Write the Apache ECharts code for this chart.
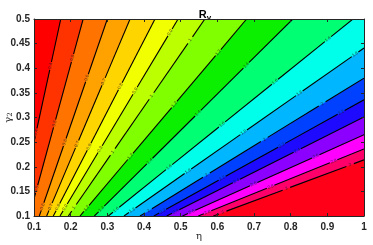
<!DOCTYPE html>
<html><head><meta charset="utf-8">
<script src="https://cdn.jsdelivr.net/npm/echarts@6/dist/echarts.min.js"></script>
<style>html,body{margin:0;padding:0;background:#fff}#c{width:373px;height:245px}</style>
</head><body><div id="c"></div>
<script>
// contour levels of R_v
const levels = [0.4, 0.5, 0.6, 0.7, 0.8, 0.9, 1, 1.2, 1.4, 1.6, 1.8, 2, 2.2, 2.4, 2.6, 2.8, 3];
// upper end of each contour line (on top edge or right edge)
const upperEta   = [0.173, 0.234, 0.300, 0.362, 0.430, 0.493, 0.566, 0.680, 0.806, 0.970, 1, 1, 1, 1, 1, 1, 1];
const upperGamma = [0.5, 0.5, 0.5, 0.5, 0.5, 0.5, 0.5, 0.5, 0.5, 0.5, 0.441, 0.380, 0.336, 0.301, 0.265, 0.236, 0.214];
// lower end of each contour line (on left edge or bottom edge)
const lowerEta   = [0.1, 0.1, 0.1145, 0.1345, 0.1527, 0.171, 0.1936, 0.2255, 0.2645, 0.3027, 0.3455, 0.389, 0.427, 0.462, 0.505, 0.548, 0.589];
const lowerGamma = [0.250, 0.135, 0.1, 0.1, 0.1, 0.1, 0.1, 0.1, 0.1, 0.1, 0.1, 0.1, 0.1, 0.1, 0.1, 0.1, 0.1];
// axis ranges / ticks
const etaRange = [0.1, 1], etaStep = 0.1;
const gammaRange = [0.1, 0.5], gammaStep = 0.05;

const bandColors = ['#FF0000','#FF3300','#FF7300','#FFA200','#FFD500','#F2FF00','#BBFF00','#80FF00',
  '#0AF000','#00FF72','#00FFEA','#00B7FF','#0040FF','#1D0AFF','#8C00FF','#FF00FF','#FF006A','#FF0018'];

const chart = echarts.init(document.getElementById('c'));
const AX = '#262626';

const fillData = bandColors.map((c, k) => [k]);
const lineData = levels.map((lv, i) => [upperEta[i], upperGamma[i], lowerEta[i], lowerGamma[i], lv]);

function fmt(v){ return String(+v.toFixed(2)); }

function renderFill(params, api) {
  const k = params.dataIndex;
  const [x0, x1] = etaRange, [y0, y1] = gammaRange;
  let pts;
  if (k >= levels.length) {
    pts = [[x0,y0],[x1,y0],[x1,y1],[x0,y1]];
  } else {
    pts = [[lowerEta[k], lowerGamma[k]], [upperEta[k], upperGamma[k]]];
    if (upperEta[k] >= x1) pts.push([x1, y1]);
    pts.push([x0, y1]);
    if (lowerGamma[k] <= y0) pts.push([x0, y0]);
  }
  return {
    type: 'polygon', z2: 100 - k,
    shape: { points: pts.map(p => api.coord(p)) },
    style: { fill: bandColors[k], stroke: bandColors[k], lineWidth: 0.5 }
  };
}

function renderLine(params, api) {
  const i = params.dataIndex;
  const Q = api.coord([lowerEta[i], lowerGamma[i]]);
  const P = api.coord([upperEta[i], upperGamma[i]]);
  const dx = P[0]-Q[0], dy = P[1]-Q[1];
  const L = Math.hypot(dx, dy);
  const ux = dx/L, uy = dy/L;
  const rot = Math.atan2(-dy, dx);
  const labs = [];
  for (let s = 10; s < L - 8; s += 68) labs.push(s);
  const gap = 4;
  const children = [];
  let cur = 0;
  labs.forEach(s => {
    const a = cur, b = s - gap;
    if (b > a) children.push({type:'line', shape:{x1:Q[0]+ux*a, y1:Q[1]+uy*a, x2:Q[0]+ux*b, y2:Q[1]+uy*b}, style:{stroke:'#000', lineWidth:1.1}});
    children.push({type:'text', x:Q[0]+ux*s, y:Q[1]+uy*s, rotation: rot,
      style:{text: String(levels[i]), fontSize:4.5, fontFamily:'Liberation Sans', fill:'rgba(30,30,30,0.8)', align:'center', verticalAlign:'middle'}});
    cur = s + gap;
  });
  children.push({type:'line', shape:{x1:Q[0]+ux*cur, y1:Q[1]+uy*cur, x2:P[0], y2:P[1]}, style:{stroke:'#000', lineWidth:1.1}});
  return {type:'group', children};
}

const baseX = { type:'value', min: etaRange[0], max: etaRange[1], interval: etaStep, z: 10,
  axisLine:{show:true, onZero:false, lineStyle:{color:AX, width:1}},
  axisTick:{show:true, inside:true, length:3, lineStyle:{color:AX}},
  splitLine:{show:false} };
const baseY = { type:'value', min: gammaRange[0], max: gammaRange[1], interval: gammaStep, z: 10,
  axisLine:{show:true, onZero:false, lineStyle:{color:AX, width:1}},
  axisTick:{show:true, inside:true, length:3, lineStyle:{color:AX}},
  splitLine:{show:false} };

chart.setOption({
  animation: false,
  title: {
    text: '{a|R}{b|v}', left: 200, textAlign: 'center', top: 2,
    textStyle: { rich: {
      a: { fontSize: 11, fontWeight: 'bold', color: '#000', fontFamily: 'Liberation Sans' },
      b: { fontSize: 8, fontWeight: 'bold', color: '#000', fontFamily: 'Liberation Sans', padding: [7,0,0,0] }
    } }
  },
  grid: { left: 34, right: 9, top: 19, bottom: 29, containLabel: false, outerBoundsMode: 'none' },
  xAxis: [
    Object.assign({}, baseX, { position:'bottom',
      axisLabel:{color:AX, fontWeight:'bold', fontSize:10, fontFamily:'Liberation Sans', margin:6, formatter: fmt},
      name: 'η', nameLocation:'middle', nameGap: 15, nameMoveOverlap: false,
      nameTextStyle:{fontFamily:'DejaVu Serif', fontSize:10, color:AX} }),
    Object.assign({}, baseX, { position:'top', axisLabel:{show:false} })
  ],
  yAxis: [
    Object.assign({}, baseY, { position:'left',
      axisLabel:{color:AX, fontWeight:'bold', fontSize:10, fontFamily:'Liberation Sans', margin:4, formatter: fmt},
      name: '{a|γ}{b|2}', nameLocation:'middle', nameGap: 20, nameRotate: 90, nameMoveOverlap: false,
      nameTextStyle:{ rich:{ a:{fontFamily:'DejaVu Serif', fontSize:10, color:AX}, b:{fontFamily:'DejaVu Serif', fontSize:7, color:AX, padding:[5,0,0,0]} } } }),
    Object.assign({}, baseY, { position:'right', axisLabel:{show:false} })
  ],
  series: [
    { type:'custom', name:'bands', data: fillData, renderItem: renderFill, clip: true, z: 2, silent: true,
      encode:{x:-1, y:-1} },
    { type:'custom', name:'contours', data: lineData, renderItem: renderLine, clip: true, z: 3, silent: true,
      encode:{x:[0,2], y:[1,3]} }
  ]
});
</script></body></html>
